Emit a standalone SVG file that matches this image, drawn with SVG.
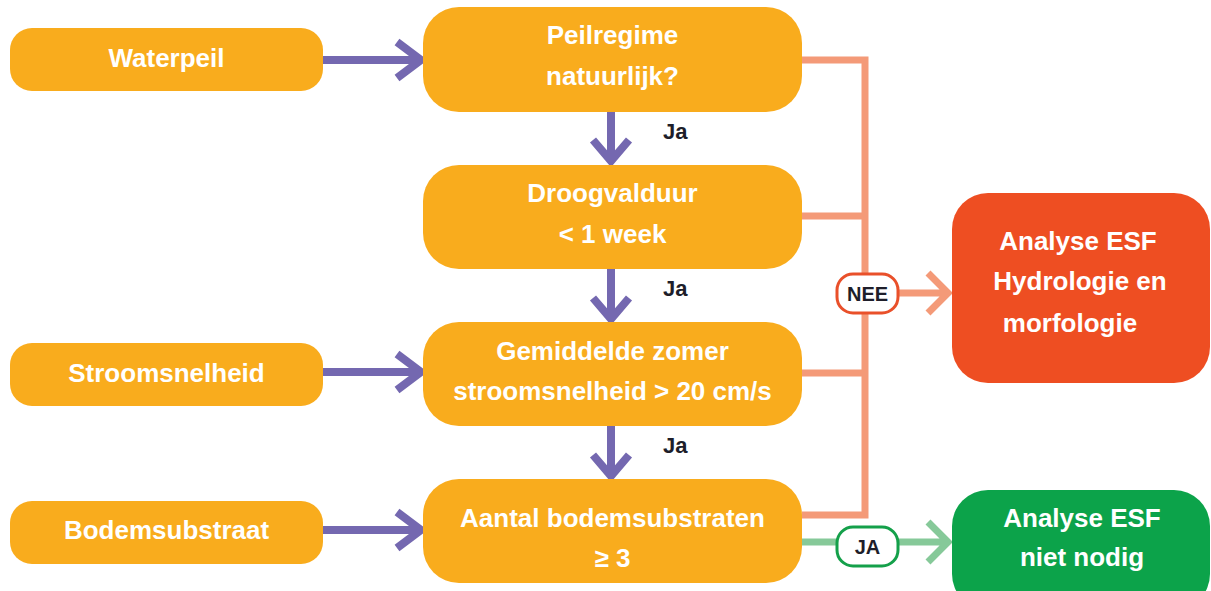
<svg xmlns="http://www.w3.org/2000/svg" width="1211" height="591" viewBox="0 0 1211 591">
<style>
.box{fill:#F9AC1D}
.t{font-family:"Liberation Sans",Arial,sans-serif;font-weight:bold;font-size:26px;fill:#FFFFFF;text-anchor:middle}
.lbl{font-family:"Liberation Sans",Arial,sans-serif;font-weight:bold;font-size:20px;fill:#1E1E2A}
.ja{font-size:22px}
.pu{stroke:#7468B0;stroke-width:8;fill:none}
.sa{stroke:#F49A78;stroke-width:7;fill:none}
.gr{stroke:#86C999;stroke-width:7;fill:none}
</style>
<rect width="1211" height="591" fill="#FFFFFF"/>
<g id="connectors">
  <path class="pu" d="M323,60 H419 M397,42 L421,60 L397,78"/>
  <path class="pu" d="M323,372 H419 M397,354 L421,372 L397,390"/>
  <path class="pu" d="M323,530 H419 M397,512 L421,530 L397,548"/>
  <path class="pu" d="M611,112 V159 M593,140 L611,161 L629,140"/>
  <path class="pu" d="M611,269 V317 M593,298 L611,319 L629,298"/>
  <path class="pu" d="M611,426 V474 M593,455 L611,476 L629,455"/>
  <path class="sa" d="M802,60 H865 V515 H802 M802,216 H865 M802,373 H865"/>
  <path class="sa" d="M898,293 H946 M928,273 L948,293 L928,313"/>
  <path class="gr" d="M802,542 H946 M928,522 L948,542 L928,562"/>
  <rect x="837" y="274" width="61" height="39" rx="16" fill="#FFFFFF" stroke="#E9502A" stroke-width="3"/>
  <text class="lbl" x="867.5" y="301" text-anchor="middle">NEE</text>
  <rect x="837" y="527" width="61" height="39" rx="16" fill="#FFFFFF" stroke="#14A04A" stroke-width="3"/>
  <text class="lbl" x="867.5" y="554" text-anchor="middle">JA</text>
  <text class="lbl ja" x="663" y="139">Ja</text>
  <text class="lbl ja" x="663" y="296">Ja</text>
  <text class="lbl ja" x="663" y="453">Ja</text>
</g>
<g id="waterpeil">
  <rect class="box" x="10" y="28" width="313" height="63" rx="22"/>
  <text class="t" x="166.5" y="67">Waterpeil</text>
</g>
<g id="stroomsnelheid">
  <rect class="box" x="10" y="343" width="313" height="63" rx="22"/>
  <text class="t" x="166.5" y="382">Stroomsnelheid</text>
</g>
<g id="bodemsubstraat">
  <rect class="box" x="10" y="501" width="313" height="63" rx="22"/>
  <text class="t" x="166.5" y="539">Bodemsubstraat</text>
</g>
<g id="peilregime">
  <rect class="box" x="423" y="7" width="379" height="105" rx="36"/>
  <text class="t" x="612.5" y="44">Peilregime</text>
  <text class="t" x="612.5" y="85">natuurlijk?</text>
</g>
<g id="droogvalduur">
  <rect class="box" x="423" y="165" width="379" height="104" rx="36"/>
  <text class="t" x="612.5" y="202">Droogvalduur</text>
  <text class="t" x="612.5" y="243">&lt; 1 week</text>
</g>
<g id="gemiddelde">
  <rect class="box" x="423" y="322" width="379" height="104" rx="36"/>
  <text class="t" x="612.5" y="360">Gemiddelde zomer</text>
  <text class="t" x="612.5" y="400">stroomsnelheid &gt; 20 cm/s</text>
</g>
<g id="aantal">
  <rect class="box" x="423" y="479" width="379" height="104" rx="36"/>
  <text class="t" x="612.5" y="527">Aantal bodemsubstraten</text>
  <text class="t" x="612.5" y="567">≥ 3</text>
</g>
<g id="analyse-hydrologie">
  <rect x="952" y="193" width="258" height="190" rx="36" fill="#EE4E22"/>
  <text class="t" x="1078" y="250">Analyse ESF</text>
  <text class="t" x="1080" y="290">Hydrologie en</text>
  <text class="t" x="1070" y="332">morfologie</text>
</g>
<g id="analyse-niet-nodig">
  <rect x="952" y="490" width="258" height="120" rx="36" fill="#0CA34A"/>
  <text class="t" x="1082" y="527">Analyse ESF</text>
  <text class="t" x="1082" y="566">niet nodig</text>
</g>
</svg>
